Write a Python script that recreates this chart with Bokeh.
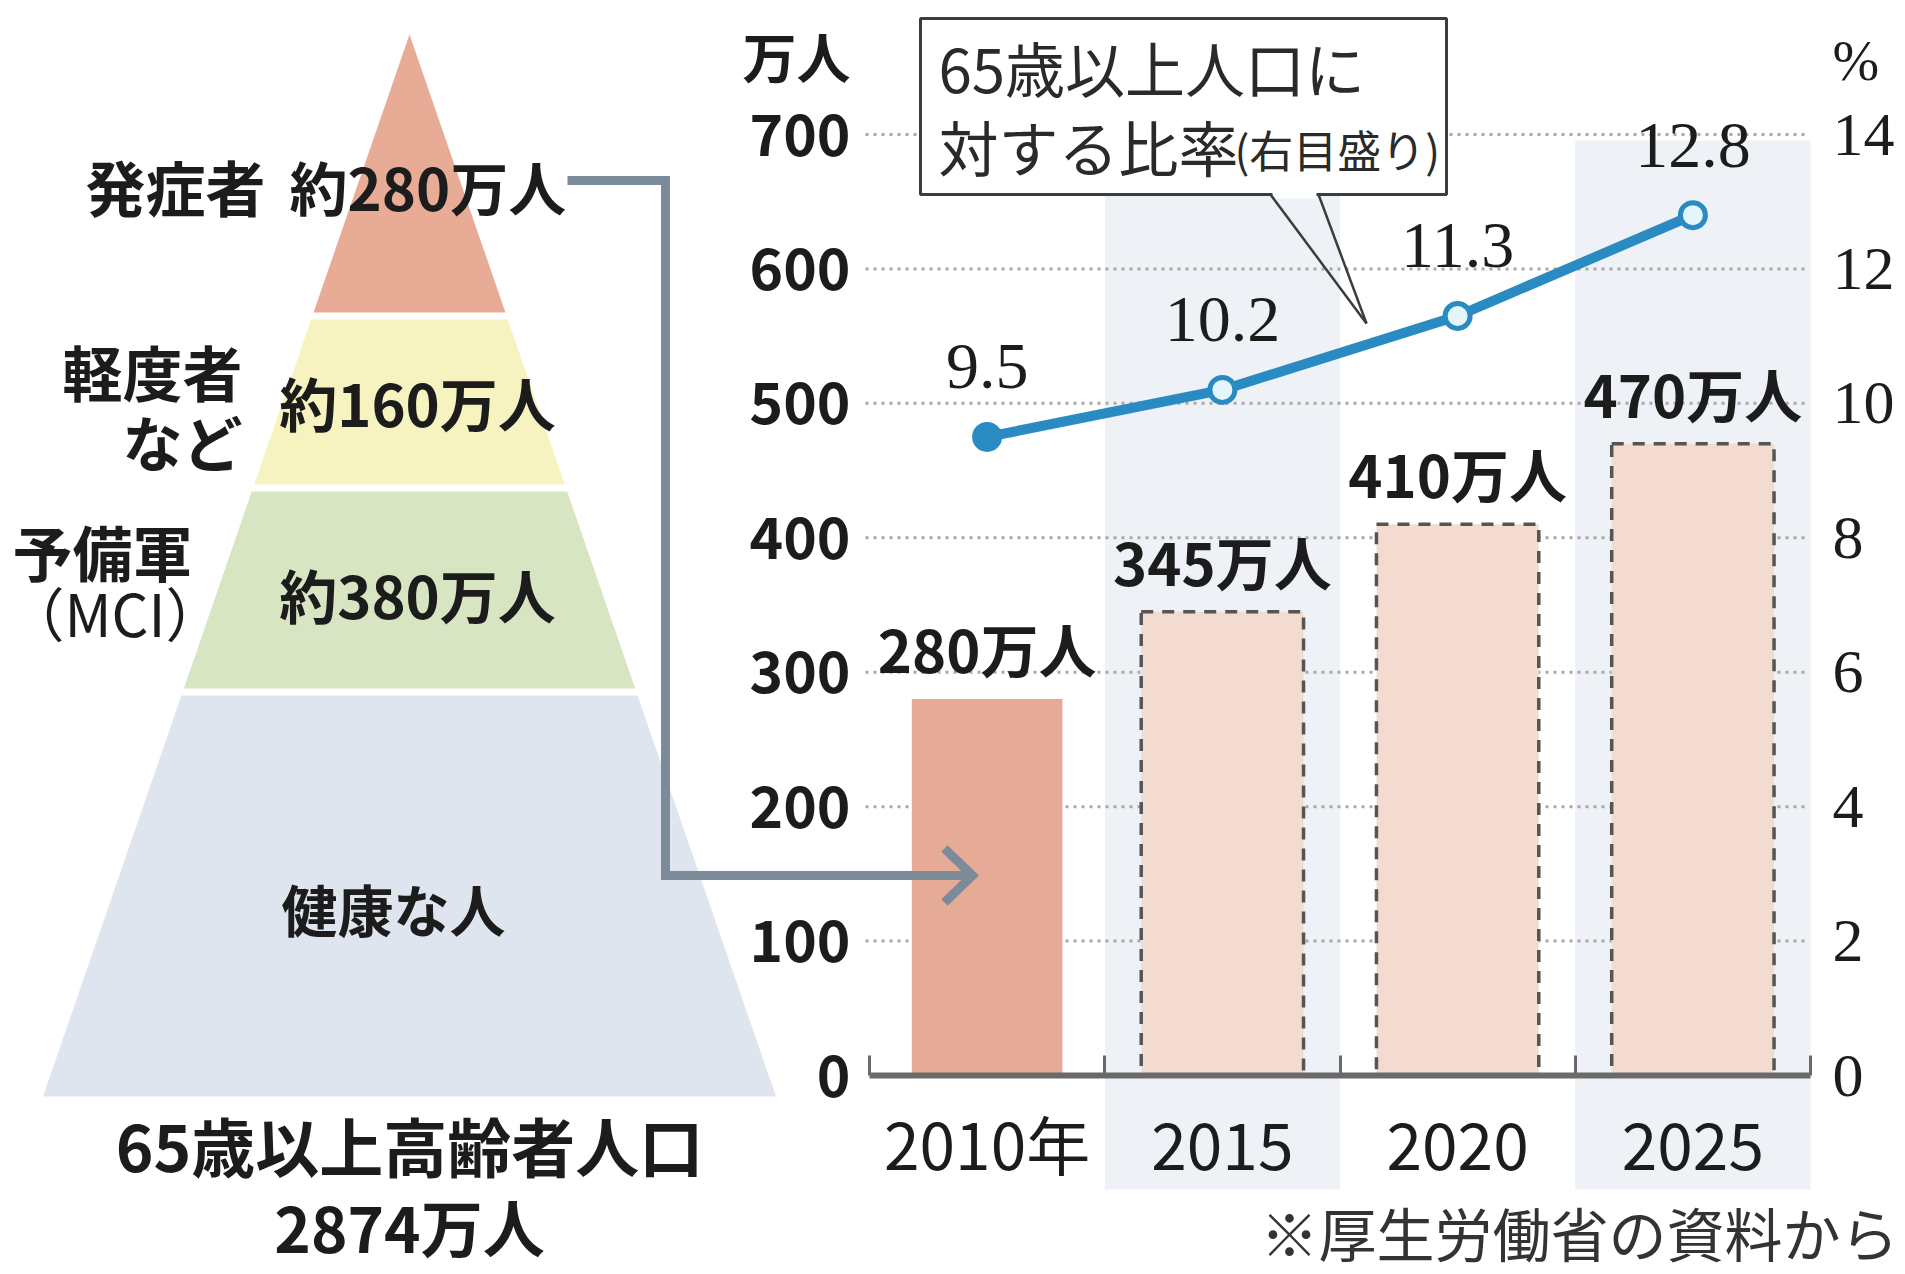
from bokeh.plotting import figure
from bokeh.models import Range1d, LinearAxis, FixedTicker, ColumnDataSource
from bokeh.core.properties import value
from bokeh.embed import file_html
from bokeh.resources import INLINE

# ---------------- data ----------------
years = ["2010年", "2015", "2020", "2025"]
patients = [280, 345, 410, 470]            # 認知症の人 (万人); 2010 actual, later projected
patient_labels = ["280万人", "345万人", "410万人", "470万人"]
ratio = [9.5, 10.2, 11.3, 12.8]            # 65歳以上人口に対する比率 (%)
ratio_labels = ["9.5", "10.2", "11.3", "12.8"]
left_ticks = [0, 100, 200, 300, 400, 500, 600, 700]
right_ticks = [0, 2, 4, 6, 8, 10, 12, 14]

pyramid_names = ["発症者", "軽度者", "予備軍", "健康な人"]
pyramid_values = ["約280万人", "約160万人", "約380万人"]
population_title = "65歳以上高齢者人口"
population_total = "2874万人"

# ---------------- layout (page pixels -> data) ----------------
W, H = 1905, 1274
OFF = 0
X0, XS = 869.0, 235.25          # page x of category 0 edge, px per category
Y0, YS = 1075.0, 941.0 / 700.0  # page y of value 0, px per 万人
PCT = 50.0                      # 万人 per % (14% aligned with 700)
CJK_DY = -7                     # baseline correction for CJK texts


def X(px):
    return (px - X0) / XS


def Y(py):
    return (Y0 - py) / YS


JP = value("Noto Sans CJK JP")
SERIF = value("Liberation Serif")
INK = "#1c1c1c"

p = figure(width=W, height=H,
           x_range=Range1d(X(OFF), X(OFF + W)),
           y_range=Range1d(Y(OFF + H), Y(OFF)),
           x_axis_type=None, y_axis_type=None,
           output_backend="svg", toolbar_location=None,
           min_border=0, min_border_left=0, min_border_right=0,
           min_border_top=0, min_border_bottom=0)
p.outline_line_color = None
p.background_fill_color = "white"
p.border_fill_color = "white"
p.extra_y_ranges = {"pct": Range1d(Y(OFF + H) / PCT, Y(OFF) / PCT)}

cx = [i + 0.5 for i in range(len(years))]

# alternating column shading
p.quad(left=[1, 3], right=[2, 4], bottom=Y(1189), top=Y(140),
       fill_color="#eef2f6", line_color=None)

# dotted gridlines
p.segment(x0=X(865), x1=X(1806), y0=left_ticks[1:], y1=left_ticks[1:],
          line_color="#a9a9a9", line_width=3, line_dash="3 5")

# bars
src_act = ColumnDataSource(dict(x=cx[:1], top=patients[:1]))
src_prj = ColumnDataSource(dict(x=cx[1:], top=patients[1:]))
p.vbar(x="x", top="top", bottom=0, width=0.64, source=src_act,
       fill_color="#e5ab96", line_color=None)
p.vbar(x="x", top="top", bottom=0, width=0.69, source=src_prj,
       fill_color="#f3dccf", line_color="#555555", line_width=3.5,
       line_dash="12 9")

p.text(x=cx, y=patients, text=patient_labels, y_offset=-44 + CJK_DY,
       text_font=JP, text_font_style="bold", text_font_size=value("58px"),
       text_color=INK, text_align="center", text_baseline="middle")

# ratio line (right scale)
p.line(x=cx, y=ratio, y_range_name="pct", line_color="#2a8bc3", line_width=10)
p.scatter(x=cx[1:], y=ratio[1:], y_range_name="pct", size=25,
          fill_color="#e4f5fb", line_color="#2a8bc3", line_width=5)
p.scatter(x=cx[:1], y=ratio[:1], y_range_name="pct", size=25,
          fill_color="#2a8bc3", line_color="#2a8bc3", line_width=5)
p.text(x=cx, y=ratio, text=ratio_labels, y_range_name="pct", y_offset=-70,
       text_font=SERIF, text_font_size=value("66px"), text_color=INK,
       text_align="center", text_baseline="middle")

# callout box
p.quad(left=X(920), right=X(1446), top=Y(18), bottom=Y(194),
       fill_color="white", line_color="#3c3c3c", line_width=3)
p.quad(left=X(1272), right=X(1316), top=Y(190), bottom=Y(198),
       fill_color="white", line_color=None)
p.multi_line(xs=[[X(1270), X(1366)], [X(1318), X(1366)]],
             ys=[[Y(194), Y(323)], [Y(194), Y(323)]],
             line_color="#3c3c3c", line_width=2.5)
box_txt = dict(text_font=JP, text_color="#2a2a2a", text_align="left",
               text_baseline="middle", y_offset=CJK_DY)
p.text(x=[X(938)], y=[Y(73)], text=["65歳以上人口に"],
       text_font_size=value("60px"), **box_txt)
p.text(x=[X(938)], y=[Y(152)], text=["対する比率"],
       text_font_size=value("60px"), **box_txt)
p.text(x=[X(1234)], y=[Y(155)], text=["(右目盛り)"],
       text_font_size=value("44px"), **box_txt)

# axes
ax_left = LinearAxis(fixed_location=0, ticker=FixedTicker(ticks=left_ticks),
                     axis_line_color=None, major_tick_line_color=None,
                     minor_tick_line_color=None, major_tick_in=0, major_tick_out=0,
                     major_label_standoff=19,
                     major_label_text_font="Noto Sans CJK JP",
                     major_label_text_font_style="bold",
                     major_label_text_font_size="57px",
                     major_label_text_color=INK)
p.add_layout(ax_left, "left")

ax_right = LinearAxis(y_range_name="pct", fixed_location=4,
                      ticker=FixedTicker(ticks=right_ticks),
                      axis_line_color=None, major_tick_line_color=None,
                      minor_tick_line_color=None, major_tick_in=0, major_tick_out=0,
                      major_label_standoff=22,
                      major_label_text_font="Liberation Serif",
                      major_label_text_font_size="62px",
                      major_label_text_color=INK)
p.add_layout(ax_right, "right")

ax_base = LinearAxis(fixed_location=0, bounds=(0, 4),
                     ticker=FixedTicker(ticks=[0, 1, 2, 3, 4]),
                     axis_line_color="#6a6a6a", axis_line_width=6,
                     major_tick_line_color="#6a6a6a", major_tick_line_width=3,
                     major_tick_in=20, major_tick_out=0,
                     minor_tick_line_color=None, major_label_text_alpha=0)
p.add_layout(ax_base, "below")

ax_cat = LinearAxis(fixed_location=0, ticker=FixedTicker(ticks=cx),
                    major_label_overrides={c: y for c, y in zip(cx, years)},
                    axis_line_color=None, major_tick_line_color=None,
                    minor_tick_line_color=None, major_tick_in=0, major_tick_out=0,
                    major_label_standoff=20,
                    major_label_text_font="Noto Sans CJK JP",
                    major_label_text_font_size="64px",
                    major_label_text_color=INK)
p.add_layout(ax_cat, "below")

p.text(x=[X(850)], y=[Y(62)], text=["万人"], text_font=JP, y_offset=CJK_DY,
       text_font_style="bold", text_font_size=value("54px"), text_color=INK,
       text_align="right", text_baseline="middle")
p.text(x=[X(1832)], y=[Y(60)], text=["%"], text_font=SERIF,
       text_font_size=value("56px"), text_color=INK,
       text_align="left", text_baseline="middle")

# ---------------- pyramid ----------------
apex_x, apex_y, base_y, base_hw = 409.0, 34.0, 1096.0, 366.5
slope = base_hw / (base_y - apex_y)
layer_bounds = [(34, 312), (319, 484), (491, 688), (695, 1096)]
layer_colors = ["#e7ab96", "#f7f3c0", "#d7e5c2", "#dfe5ef"]
pxs, pys = [], []
for t, b in layer_bounds:
    ht, hb = slope * (t - apex_y), slope * (b - apex_y)
    pxs.append([X(apex_x - ht), X(apex_x + ht), X(apex_x + hb), X(apex_x - hb)])
    pys.append([Y(t), Y(t), Y(b), Y(b)])
p.patches(xs=pxs, ys=pys, fill_color=layer_colors, line_color=None)

# connector arrow
CONN = "#7b8b9a"
p.line(x=[X(567), X(665), X(665), X(966)], y=[Y(180), Y(180), Y(875), Y(875)],
       line_color=CONN, line_width=9, line_join="miter")
p.line(x=[X(944), X(972), X(944)], y=[Y(848), Y(875), Y(902)],
       line_color=CONN, line_width=9, line_join="miter")

bold = dict(text_font=JP, text_font_style="bold", text_color=INK,
            text_baseline="middle", y_offset=CJK_DY)
p.text(x=[X(265)], y=[Y(192)], text=[pyramid_names[0]], text_align="right",
       text_font_size=value("60px"), **bold)
p.text(x=[X(289)], y=[Y(192)], text=[pyramid_values[0]], text_align="left",
       text_font_size=value("58px"), **bold)
p.text(x=[X(242)], y=[Y(377)], text=[pyramid_names[1]], text_align="right",
       text_font_size=value("60px"), **bold)
p.text(x=[X(242)], y=[Y(447)], text=["など"], text_align="right",
       text_font_size=value("60px"), **bold)
p.text(x=[X(417)], y=[Y(408)], text=[pyramid_values[1]], text_align="center",
       text_font_size=value("58px"), **bold)
p.text(x=[X(12)], y=[Y(557)], text=[pyramid_names[2]], text_align="left",
       text_font_size=value("60px"), **bold)
p.text(x=[X(6)], y=[Y(618)], text=["（MCI）"], text_align="left",
       text_font=JP, text_font_size=value("58px"), text_color=INK,
       text_baseline="middle", y_offset=CJK_DY)
p.text(x=[X(417)], y=[Y(600)], text=[pyramid_values[2]], text_align="center",
       text_font_size=value("58px"), **bold)
p.text(x=[X(393)], y=[Y(914)], text=[pyramid_names[3]], text_align="center",
       text_font_size=value("56px"), **bold)
p.text(x=[X(409)], y=[Y(1150)], text=[population_title], text_align="center",
       text_font_size=value("64px"), **bold)
p.text(x=[X(409)], y=[Y(1232)], text=[population_total], text_align="center",
       text_font_size=value("62px"), **bold)

# source note
p.text(x=[X(1898)], y=[Y(1238)], text=["※厚生労働省の資料から"], text_align="right",
       text_font=JP, text_font_size=value("58px"), text_color="#333333",
       text_baseline="middle", y_offset=CJK_DY)

open("out.html", "w").write(file_html(p, INLINE))
